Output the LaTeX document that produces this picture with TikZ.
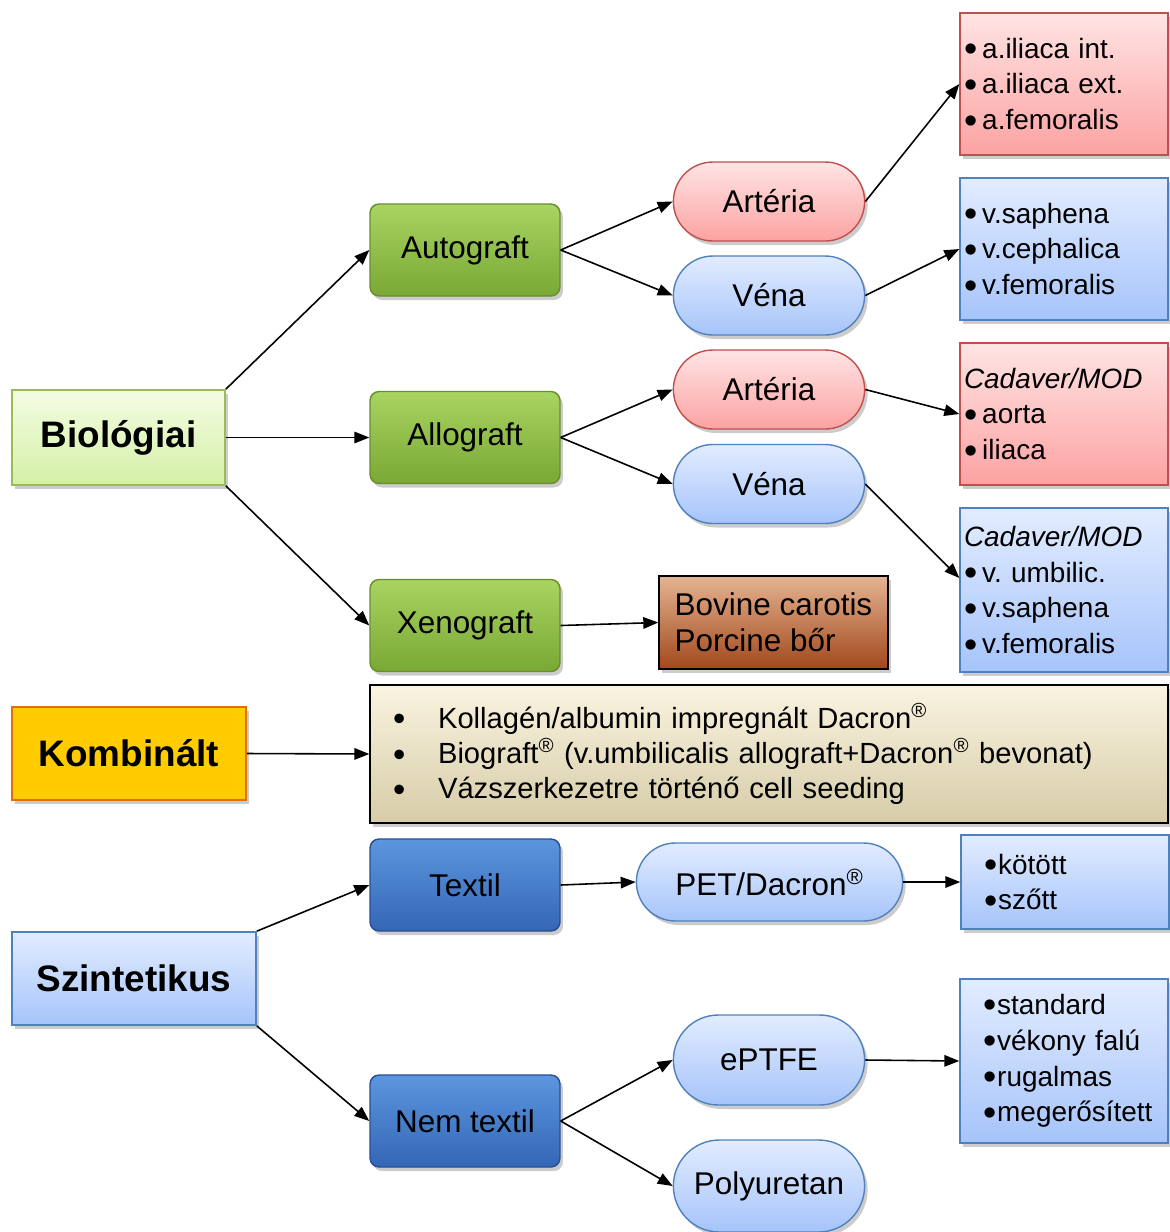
\documentclass[tikz,border=0pt]{standalone}
\usepackage{fontspec}
\setmainfont{Liberation Sans}
\usetikzlibrary{shapes.misc, arrows.meta, positioning, calc, shadows}
\definecolor{bioTop}{RGB}{244,252,228}
\definecolor{bioBot}{RGB}{212,240,165}
\definecolor{bioLine}{RGB}{155,187,89}
\definecolor{grnTop}{RGB}{168,212,98}
\definecolor{grnBot}{RGB}{122,168,52}
\definecolor{grnLine}{RGB}{105,140,45}
\definecolor{dbTop}{RGB}{92,150,222}
\definecolor{dbBot}{RGB}{52,102,182}
\definecolor{dbLine}{RGB}{40,78,145}
\definecolor{pkTop}{RGB}{255,228,228}
\definecolor{pkBot}{RGB}{252,162,162}
\definecolor{pkLine}{RGB}{192,80,77}
\definecolor{lbTop}{RGB}{226,236,255}
\definecolor{lbBot}{RGB}{166,196,250}
\definecolor{lbLine}{RGB}{79,129,189}
\definecolor{brTop}{RGB}{228,180,145}
\definecolor{brBot}{RGB}{162,72,28}
\definecolor{bgTop}{RGB}{250,243,224}
\definecolor{bgBot}{RGB}{214,204,168}
\definecolor{goldFill}{RGB}{255,204,0}
\definecolor{goldLine}{RGB}{228,108,10}
\newcommand{\fsMain}{\fontsize{17.9}{20.4}\selectfont}
\newcommand{\fsCat}{\fontsize{21}{25}\selectfont\bfseries}
\newcommand{\fsList}{\fontsize{15.9}{20.4}\selectfont}
\newcommand{\fsKomb}{\fontsize{16.6}{20.1}\selectfont}
\newcommand{\bigdot}{\smash{\raisebox{-0.07cm}{\scalebox{1.35}{\textbullet}}}}
\newcommand{\bul}{\bigdot\hspace{0.1cm}}
\newcommand{\bulT}{\hspace*{0.38cm}\bigdot\hspace{0.02cm}}
\newcommand{\kbul}{\makebox[0.9cm][l]{\smash{\raisebox{-0.05cm}{\scalebox{1.2}{\textbullet}}}}}
\newcommand{\reg}{\textsuperscript{®}}
\tikzset{
	softshadow/.style={drop shadow={shadow xshift=0.06cm, shadow yshift=-0.08cm, opacity=0.4}},
	catbox/.style   ={rectangle, draw, line width=1pt, font=\fsCat, align=center, softshadow},
	graftbox/.style ={rectangle, rounded corners=0.18cm, draw, line width=0.8pt, minimum width=3.8cm, minimum height=1.84cm, font=\fsMain, softshadow},
	vessel/.style   ={rounded rectangle, draw, line width=0.8pt, minimum width=4.06cm, minimum height=1.58cm, font=\fsMain, softshadow},
	listbox/.style  ={rectangle, draw, line width=0.8pt, minimum width=4.16cm, text width=4cm, inner xsep=0.08cm, align=left, font=\fsList, softshadow},
	% fills
	grnfill/.style  ={top color=grnTop, bottom color=grnBot, draw=grnLine},
	dbfill/.style   ={top color=dbTop, bottom color=dbBot, draw=dbLine},
	pkfill/.style   ={top color=pkTop, bottom color=pkBot, draw=pkLine},
	lbfill/.style   ={top color=lbTop, bottom color=lbBot, draw=lbLine},
	sig/.style      ={-{Triangle[length=0.3cm, width=0.23cm]}, line width=0.9pt},
}
\begin{document}
\begin{tikzpicture}[x=0.02cm, y=-0.02cm]
	\useasboundingbox (0,0) rectangle (1170,1232);
	\clip (0,0) rectangle (1170,1232);
	% main categories
	\node[catbox, top color=bioTop, bottom color=bioBot, draw=bioLine, minimum width=4.26cm, minimum height=1.9cm] (bio) at (118.5,437.5) {Biológiai};
	\node[catbox, fill=goldFill, draw=goldLine, minimum width=4.68cm, minimum height=1.86cm] (komb) at (129,753.5) {Kombinált};
	\node[catbox, lbfill, minimum width=4.88cm, minimum height=1.86cm] (szint) at (134,978.5) {Szintetikus};
	% graft types
	\node[graftbox, grnfill] (auto) at (465,250) {Autograft};
	\node[graftbox, grnfill] (allo) at (465,437.5) {Allograft};
	\node[graftbox, grnfill] (xeno) at (465,625.5) {Xenograft};
	\node[graftbox, dbfill] (textil) at (465,885) {Textil};
	\node[graftbox, dbfill] (nemtex) at (465,1121) {Nem textil};
	% vessels and materials
	\node[vessel, pkfill] (art1) at (769,201.5) {Artéria};
	\node[vessel, lbfill] (vena1) at (769,295.5) {Véna};
	\node[vessel, pkfill] (art2) at (769,389.5) {Artéria};
	\node[vessel, lbfill] (vena2) at (769,484) {Véna};
	\node[rectangle, draw, line width=0.8pt, top color=brTop, bottom color=brBot, minimum width=4.58cm, minimum height=1.86cm, align=left, font=\fsMain, softshadow] (bov) at (773.5,622.5) {Bovine carotis\\Porcine bőr};
	\node[vessel, lbfill, minimum width=5.56cm, minimum height=1.56cm] (pet) at (769.5,882) {PET/Dacron\reg};
	\node[vessel, lbfill, minimum height=1.8cm] (eptfe) at (769,1060) {ePTFE};
	\node[vessel, lbfill, minimum height=1.84cm] (polyu) at (769,1186) {Polyuretan};
	% lists
	\node[listbox, pkfill, minimum height=2.84cm] (artlist1) at (1064,84) {\bul a.iliaca int.\\\bul a.iliaca ext.\\\bul a.femoralis\\[0.08cm]};
	\node[listbox, lbfill, minimum height=2.84cm] (venlist1) at (1064,249) {\bul v.saphena\\\bul v.cephalica\\\bul v.femoralis\\[0.08cm]};
	\node[listbox, pkfill, minimum height=2.84cm] (artlist2) at (1064,414) {\textit{Cadaver/MOD}\\\bul aorta\\\bul iliaca\\[0.08cm]};
	\node[listbox, lbfill, minimum height=3.28cm] (venlist2) at (1064,590) {\textit{Cadaver/MOD}\\\bul v.\ umbilic.\\\bul v.saphena\\\bul v.femoralis};
	\node[listbox, lbfill, minimum width=4.12cm, minimum height=1.88cm] (petlist) at (1065,882) {\bulT kötött\\\bulT szőtt};
	\node[listbox, lbfill, minimum height=3.28cm] (eptlist) at (1064,1061) {\bulT standard\\\bulT vékony falú\\\bulT rugalmas\\\bulT megerősített};
	\node[rectangle, draw, line width=0.8pt, top color=bgTop, bottom color=bgBot, minimum width=15.96cm, minimum height=2.76cm, text width=15.04cm, inner xsep=0.46cm, align=left, font=\fsKomb, softshadow] (kombl) at (769,754)
		{\kbul Kollagén/albumin impregnált Dacron\reg\\\kbul Biograft\reg{} (v.umbilicalis allograft+Dacron\reg{} bevonat)\\\kbul Vázszerkezetre történő cell seeding\\[0.06cm]};
	% connectors
	\draw[sig] (bio.north east) -- (auto.west);
	\draw[sig] (bio.east) -- (allo.west);
	\draw[sig] (bio.south east) -- (xeno.west);
	\draw[sig] (auto.east) -- (art1.west);
	\draw[sig] (auto.east) -- (vena1.west);
	\draw[sig] (allo.east) -- (art2.west);
	\draw[sig] (allo.east) -- (vena2.west);
	\draw[sig] (xeno.east) -- (bov.west);
	\draw[sig] (art1.east) -- (artlist1.west);
	\draw[sig] (vena1.east) -- (venlist1.west);
	\draw[sig] (art2.east) -- (artlist2.west);
	\draw[sig] (vena2.east) -- ($(venlist2.west)+(0,-12)$);
	\draw[sig] (komb.east) -- (kombl.west);
	\draw[sig] (szint.north east) -- (textil.west);
	\draw[sig] (szint.south east) -- (nemtex.west);
	\draw[sig] (textil.east) -- (pet.west);
	\draw[sig] (pet.east) -- (petlist.west);
	\draw[sig] (nemtex.east) -- (eptfe.west);
	\draw[sig] (nemtex.east) -- (polyu.west);
	\draw[sig] (eptfe.east) -- (eptlist.west);
\end{tikzpicture}
\end{document}
